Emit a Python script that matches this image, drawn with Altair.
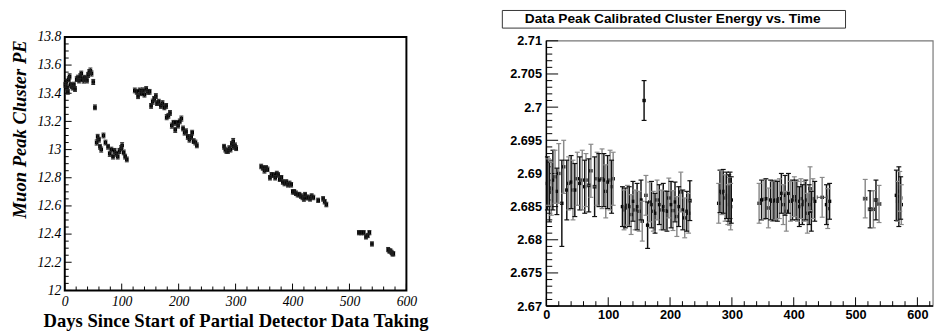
import altair as alt
import pandas as pd

SERIF = "Liberation Serif"
SANS = "Liberation Sans"

# ---------------- Left panel data (Muon Peak Cluster PE) ----------------
seg1_days = [1, 2.5, 4, 5.5, 7, 8.5, 10, 12, 14, 16,
             18, 21, 23, 25, 27, 29, 31, 33, 35, 37,
             39, 41, 43, 45, 47, 50, 53]
seg1_vals = [13.46, 13.48, 13.44, 13.41, 13.50, 13.52, 13.46, 13.45, 13.44, 13.46,
             13.43, 13.50, 13.51, 13.49, 13.52, 13.54, 13.50, 13.49, 13.51, 13.50,
             13.49, 13.53, 13.55, 13.56, 13.54, 13.48, 13.30]
seg1_errs = [0.017, 0.017, 0.018, 0.017, 0.017, 0.018, 0.017, 0.017, 0.017, 0.018,
             0.017, 0.017, 0.018, 0.017, 0.018, 0.017, 0.017, 0.018, 0.017, 0.017,
             0.017, 0.018, 0.018, 0.019, 0.018, 0.018, 0.017]

seg2_days = [56, 57.8, 60, 61.8, 64, 68, 71.5, 76, 79, 81.8,
             84.7, 87.5, 90.4, 93, 96, 99, 100.7, 103.5, 106, 109]
seg2_vals = [13.05, 13.09, 13.07, 13.02, 13.00, 13.10, 13.05, 13.02, 12.97, 13.00,
             12.95, 12.99, 12.97, 12.95, 12.99, 13.01, 13.03, 12.98, 12.95, 12.93]
seg2_errs = [0.018, 0.018, 0.017, 0.017, 0.018, 0.017, 0.017, 0.017, 0.018, 0.017,
             0.017, 0.018, 0.017, 0.017, 0.018, 0.018, 0.019, 0.017, 0.017, 0.017]

seg3_days = [123, 126.4, 128.7, 131.6, 134.4, 137.3, 140, 143, 146, 149,
             151.6, 154.5, 157, 160, 162, 165, 168.8, 171.6, 175, 178,
             179, 182, 184.8, 188, 191, 194, 196, 199, 202, 204.8,
             207.7, 210.5, 213, 216, 219, 222, 223.7, 226.5, 229.4, 232]
seg3_vals = [13.42, 13.41, 13.38, 13.42, 13.40, 13.42, 13.39, 13.43, 13.41, 13.41,
             13.31, 13.34, 13.36, 13.38, 13.33, 13.34, 13.31, 13.33, 13.30, 13.31,
             13.23, 13.24, 13.26, 13.17, 13.19, 13.14, 13.19, 13.17, 13.20, 13.22,
             13.15, 13.12, 13.13, 13.09, 13.07, 13.09, 13.12, 13.06, 13.05, 13.03]
seg3_errs = [0.017, 0.017, 0.018, 0.017, 0.017, 0.018, 0.017, 0.017, 0.017, 0.017,
             0.017, 0.018, 0.017, 0.017, 0.017, 0.017, 0.017, 0.017, 0.017, 0.017,
             0.018, 0.017, 0.017, 0.018, 0.017, 0.018, 0.017, 0.017, 0.017, 0.018,
             0.017, 0.017, 0.017, 0.017, 0.017, 0.017, 0.017, 0.017, 0.017, 0.017]

seg4_days = [279.7, 282, 284, 286.6, 289, 291, 293.5, 295.8, 297, 299, 301]
seg4_vals = [13.02, 13.00, 12.99, 12.99, 13.01, 13.00, 13.04, 13.06, 13.02, 13.03, 13.01]
seg4_errs = [0.017, 0.017, 0.017, 0.017, 0.017, 0.017, 0.018, 0.019, 0.018, 0.017, 0.017]

seg5_days = [345, 347.8, 350.7, 353.5, 356, 360.4, 363, 366.7, 369.6, 372.4,
             374.7, 377.6, 380.4, 383, 386, 389, 392, 394.7, 397.6, 400.5,
             403, 406, 409, 412, 414.8, 417.6, 420, 422, 425, 428,
             430.8, 433.6, 436.5, 445, 453.7, 456.5, 459.4]
seg5_vals = [12.88, 12.87, 12.85, 12.87, 12.86, 12.80, 12.82, 12.82, 12.80, 12.83,
             12.82, 12.79, 12.80, 12.77, 12.76, 12.77, 12.75, 12.76, 12.75, 12.70,
             12.70, 12.69, 12.68, 12.68, 12.67, 12.66, 12.65, 12.68, 12.66, 12.66,
             12.65, 12.67, 12.66, 12.64, 12.65, 12.63, 12.61]
seg5_errs = [0.016, 0.016, 0.017, 0.016, 0.016, 0.016, 0.017, 0.016, 0.016, 0.016,
             0.016, 0.016, 0.016, 0.016, 0.017, 0.016, 0.016, 0.016, 0.016, 0.016,
             0.016, 0.016, 0.016, 0.016, 0.016, 0.016, 0.017, 0.016, 0.017, 0.016,
             0.016, 0.016, 0.016, 0.015, 0.016, 0.016, 0.016]

seg6_days = [516.6, 520.6, 525, 529, 532, 535, 539.5]
seg6_vals = [12.41, 12.41, 12.41, 12.38, 12.39, 12.41, 12.33]
seg6_errs = [0.015, 0.015, 0.015, 0.015, 0.015, 0.015, 0.015]

seg7_days = [568, 570, 572, 574, 575.5, 577]
seg7_vals = [12.29, 12.28, 12.28, 12.27, 12.26, 12.26]
seg7_errs = [0.015, 0.015, 0.015, 0.015, 0.015, 0.015]

# ---------------- Right panel data (calibrated cluster energy) ----------------
ra_days = [1.6, 3.5, 5, 8, 10.5, 14, 17, 20, 25, 28,
           33, 36, 40, 43, 46, 50, 54, 58, 62, 64,
           68.6, 72, 78, 82, 85, 90, 93, 96, 99, 103,
           105.5, 108]
ra_vals = [2.6885, 2.6887, 2.6872, 2.6877, 2.6890, 2.6895, 2.6873, 2.6900, 2.6855, 2.6910,
           2.6875, 2.6885, 2.6887, 2.6875, 2.6875, 2.6892, 2.6885, 2.6890, 2.6880, 2.6890,
           2.6882, 2.6904, 2.6880, 2.6892, 2.6890, 2.6892, 2.6890, 2.6873, 2.6887, 2.6890,
           2.6880, 2.6892]
ra_errs = [0.0040, 0.0035, 0.0045, 0.0040, 0.0045, 0.0040, 0.0035, 0.0045, 0.0065, 0.0040,
           0.0045, 0.0040, 0.0040, 0.0045, 0.0040, 0.0040, 0.0040, 0.0045, 0.0040, 0.0040,
           0.0040, 0.0040, 0.0045, 0.0040, 0.0040, 0.0045, 0.0040, 0.0040, 0.0040, 0.0045,
           0.0040, 0.0040]
ra_xerr = [0, 0, 0, 0, 0, 0, 0, 0, 0, 0,
           0, 0, 0, 0, 0, 0, 0, 0, 0, 0,
           2.5, 0, 2.5, 0, 0, 0, 0, 0, 0, 0,
           0, 0]

rb_days = [123, 125.6, 127.7, 131, 134, 137, 140, 143.5, 146.7, 150,
           153, 155, 158, 161, 163.7, 167, 170, 173, 175.7, 179,
           182.6, 185.7, 189, 192, 195, 198, 201.6, 204.7, 208, 211,
           214, 217.4, 220.6, 223.7, 227, 230, 232]
rb_vals = [2.6850, 2.6845, 2.6848, 2.6852, 2.6850, 2.6838, 2.6858, 2.6845, 2.6850, 2.6843,
           2.6860, 2.6828, 2.7010, 2.6867, 2.6822, 2.6857, 2.6853, 2.6843, 2.6840, 2.6860,
           2.6853, 2.6845, 2.6850, 2.6844, 2.6843, 2.6863, 2.6853, 2.6844, 2.6857, 2.6835,
           2.6850, 2.6872, 2.6845, 2.6833, 2.6843, 2.6840, 2.6859]
rb_errs = [0.0030, 0.0030, 0.0030, 0.0030, 0.0030, 0.0030, 0.0030, 0.0030, 0.0035, 0.0030,
           0.0030, 0.0030, 0.0030, 0.0030, 0.0035, 0.0030, 0.0035, 0.0030, 0.0030, 0.0030,
           0.0030, 0.0030, 0.0035, 0.0030, 0.0030, 0.0030, 0.0035, 0.0030, 0.0030, 0.0030,
           0.0030, 0.0030, 0.0030, 0.0030, 0.0030, 0.0030, 0.0030]
rb_xerr = [0, 0, 0, 0, 0, 0, 0, 0, 0, 0,
           0, 0, 0, 0, 0, 0, 0, 0, 0, 0,
           0, 0, 0, 0, 0, 0, 0, 0, 0, 0,
           0, 0, 0, 0, 0, 0, 2.5]

rc_days = [278.6, 280.7, 283.4, 286, 289, 291.3, 293.4, 295, 296, 297, 298, 299]
rc_vals = [2.6855, 2.6873, 2.6871, 2.6873, 2.6863, 2.6867, 2.6853, 2.6863, 2.6858, 2.6867, 2.6850, 2.6860]
rc_errs = [0.0030, 0.0032, 0.0033, 0.0033, 0.0035, 0.0035, 0.0030, 0.0035, 0.0036, 0.0035, 0.0035, 0.0035]
rc_xerr = [0, 0, 0, 0, 0, 0, 0, 0, 0, 0, 0, 0]

rd_days = [344, 348, 352, 355, 359, 362.6, 365.7, 368, 371, 373.6,
           376.8, 380, 383, 386, 388, 391.5, 394.7, 398, 401, 404,
           406, 409, 411.6, 414, 417, 419.5, 422, 425, 426.4, 428.5,
           431, 434, 446, 453, 455, 458]
rd_vals = [2.6855, 2.6860, 2.6861, 2.6862, 2.6848, 2.6860, 2.6858, 2.6859, 2.6860, 2.6858,
           2.6862, 2.6870, 2.6853, 2.6867, 2.6843, 2.6870, 2.6858, 2.6860, 2.6865, 2.6860,
           2.6858, 2.6850, 2.6862, 2.6853, 2.6858, 2.6860, 2.6840, 2.6853, 2.6877, 2.6843,
           2.6862, 2.6858, 2.6864, 2.6853, 2.6847, 2.6858]
rd_errs = [0.0030, 0.0030, 0.0030, 0.0030, 0.0030, 0.0030, 0.0030, 0.0030, 0.0030, 0.0030,
           0.0030, 0.0030, 0.0030, 0.0030, 0.0030, 0.0030, 0.0030, 0.0030, 0.0030, 0.0030,
           0.0030, 0.0030, 0.0030, 0.0030, 0.0030, 0.0030, 0.0030, 0.0030, 0.0033, 0.0030,
           0.0030, 0.0030, 0.0030, 0.0030, 0.0030, 0.0027]
rd_xerr = [0, 0, 0, 0, 2.5, 0, 0, 0, 0, 0,
           0, 0, 0, 0, 0, 0, 0, 0, 0, 0,
           0, 0, 0, 0, 0, 0, 0, 0, 0, 0,
           0, 0, 8, 0, 0, 0]

re_days = [515.6, 523.5, 528.8, 533, 538]
re_vals = [2.6862, 2.6846, 2.6846, 2.6860, 2.6854]
re_errs = [0.0029, 0.0028, 0.0028, 0.0030, 0.0028]
re_xerr = [3, 3, 3, 3, 3]

rf_days = [566, 568, 570, 571.5, 573, 574]
rf_vals = [2.6867, 2.6858, 2.6865, 2.6873, 2.6863, 2.6853]
rf_errs = [0.0038, 0.0030, 0.0045, 0.0030, 0.0032, 0.0030]
rf_xerr = [0, 0, 0, 0, 0, 0]

# tick values / labels
left_x_labels = [0, 100, 200, 300, 400, 500, 600]
left_y_labels = [12, 12.2, 12.4, 12.6, 12.8, 13, 13.2, 13.4, 13.6, 13.8]
right_x_labels = [0, 100, 200, 300, 400, 500, 600]
right_y_labels = [2.67, 2.675, 2.68, 2.685, 2.69, 2.695, 2.7, 2.705, 2.71]
left_x_minor = [v for v in range(20, 600, 20) if v % 100]
left_y_minor = [round(12 + 0.05 * i, 2) for i in range(1, 36) if i % 4]
right_x_minor = [v for v in range(20, 626, 20) if v % 100]
right_y_minor = [round(2.67 + 0.001 * i, 3) for i in range(1, 40) if i % 5]

TITLE_R = "Data Peak Calibrated Cluster Energy vs. Time"

# ---------------- frames ----------------
LW, LH = 349, 259
RW, RH = 395, 275
L_XDOM, L_YDOM = [0, 600], [12, 13.8]
R_XDOM, R_YDOM = [0, 625.3], [2.67, 2.71059]

left_df = pd.DataFrame({
    "day": seg1_days + seg2_days + seg3_days + seg4_days + seg5_days + seg6_days + seg7_days,
    "val": seg1_vals + seg2_vals + seg3_vals + seg4_vals + seg5_vals + seg6_vals + seg7_vals,
    "err": seg1_errs + seg2_errs + seg3_errs + seg4_errs + seg5_errs + seg6_errs + seg7_errs,
})
left_df["lo"] = left_df["val"] - left_df["err"]
left_df["hi"] = left_df["val"] + left_df["err"]

right_df = pd.DataFrame({
    "day": ra_days + rb_days + rc_days + rd_days + re_days + rf_days,
    "val": ra_vals + rb_vals + rc_vals + rd_vals + re_vals + rf_vals,
    "err": ra_errs + rb_errs + rc_errs + rd_errs + re_errs + rf_errs,
    "xerr": ra_xerr + rb_xerr + rc_xerr + rd_xerr + re_xerr + rf_xerr,
})
right_df["lo"] = right_df["val"] - right_df["err"]
right_df["hi"] = right_df["val"] + right_df["err"]
right_df["xlo"] = right_df["day"] - right_df["xerr"]
right_df["xhi"] = right_df["day"] + right_df["xerr"]
right_df["grp"] = [i % 2 for i in range(len(right_df))]
right_x_df = right_df[right_df["xerr"] > 0]

one = pd.DataFrame({"t": [TITLE_R]})

# ---------------- axes ----------------
lx_axis = alt.Axis(values=left_x_labels, format="d", domain=False, ticks=False, grid=False,
                   labelFont=SERIF, labelFontStyle="italic", labelFontSize=14, labelColor="black",
                   labelPadding=4, labelFlush=False, labelOverlap=False,
                   title="Days Since Start of Partial Detector Data Taking",
                   titleFont=SERIF, titleFontWeight="bold", titleFontSize=19, titleColor="black",
                   titleY=37, titleBaseline="alphabetic")
ly_axis = alt.Axis(values=left_y_labels, format="~g", domain=False, ticks=False, grid=False,
                   labelFont=SERIF, labelFontStyle="italic", labelFontSize=14, labelColor="black",
                   labelPadding=4, labelFlush=False, labelOverlap=False,
                   title="Muon Peak Cluster PE", titleFont=SERIF, titleFontStyle="italic",
                   titleFontWeight="bold", titleFontSize=19, titleColor="black",
                   titleX=-46.5, titleY=3, titleAngle=270, titleAlign="right", titleBaseline="middle")
rx_axis = alt.Axis(values=right_x_labels, format="d", domain=False, ticks=False, grid=False,
                   labelFont=SANS, labelFontWeight="bold", labelFontSize=13, labelColor="black",
                   labelPadding=3, labelFlush=False, labelOverlap=False, title="")
ry_axis = alt.Axis(values=right_y_labels, format="~g", domain=False, ticks=False, grid=False,
                   labelFont=SANS, labelFontWeight="bold", labelFontSize=13, labelColor="black",
                   labelPadding=5, labelFlush=False, labelOverlap=False, title="")


def lx(field="day"):
    return alt.X(f"{field}:Q", scale=alt.Scale(domain=L_XDOM, nice=False, zero=False), axis=lx_axis)


def ly(field="val"):
    return alt.Y(f"{field}:Q", scale=alt.Scale(domain=L_YDOM, nice=False, zero=False), axis=ly_axis)


def rx(field="day"):
    return alt.X(f"{field}:Q", scale=alt.Scale(domain=R_XDOM, nice=False, zero=False), axis=rx_axis)


def ry(field="val"):
    return alt.Y(f"{field}:Q", scale=alt.Scale(domain=R_YDOM, nice=False, zero=False), axis=ry_axis)


# ---------------- left chart ----------------
lbase = alt.Chart(left_df)
l_err = lbase.mark_rule(color="#222", strokeWidth=1).encode(x=lx(), y=ly("lo"), y2="hi:Q")
l_cap_hi = lbase.mark_rule(color="#222", strokeWidth=1, xOffset=-2, x2Offset=2).encode(
    x=lx(), x2="day:Q", y=ly("hi"))
l_cap_lo = lbase.mark_rule(color="#222", strokeWidth=1, xOffset=-2, x2Offset=2).encode(
    x=lx(), x2="day:Q", y=ly("lo"))
l_pts = lbase.mark_square(size=14, color="black", opacity=1).encode(x=lx(), y=ly())

l_ytick_major = alt.Chart(pd.DataFrame({"v": left_y_labels})).mark_rule(color="black").encode(
    y=ly("v"), x=alt.value(0), x2=alt.value(7))
l_ytick_minor = alt.Chart(pd.DataFrame({"v": left_y_minor})).mark_rule(color="black").encode(
    y=ly("v"), x=alt.value(0), x2=alt.value(4))
l_xtick_major = alt.Chart(pd.DataFrame({"v": left_x_labels})).mark_rule(color="black").encode(
    x=lx("v"), y=alt.value(LH), y2=alt.value(LH - 7))
l_xtick_minor = alt.Chart(pd.DataFrame({"v": left_x_minor})).mark_rule(color="black").encode(
    x=lx("v"), y=alt.value(LH), y2=alt.value(LH - 4))
l_frame = alt.Chart(one).mark_rect(fillOpacity=0, stroke="black", strokeWidth=2).encode(
    x=alt.value(0), x2=alt.value(LW), y=alt.value(0), y2=alt.value(LH))

left = alt.layer(l_pts, l_frame, l_ytick_major, l_ytick_minor, l_xtick_major, l_xtick_minor,
                 l_err, l_cap_hi, l_cap_lo).properties(width=LW, height=LH)

# ---------------- right chart ----------------
ebar_color = alt.Color("grp:N", scale=alt.Scale(domain=[0, 1], range=["#111111", "#8a8a8a"]), legend=None)
rbase = alt.Chart(right_df)
r_err = rbase.mark_rule(strokeWidth=1.5).encode(x=rx(), y=ry("lo"), y2="hi:Q", color=ebar_color)
r_cap_hi = rbase.mark_rule(strokeWidth=1.2, xOffset=-2.5, x2Offset=2.5).encode(
    x=rx(), x2="day:Q", y=ry("hi"), color=ebar_color)
r_cap_lo = rbase.mark_rule(strokeWidth=1.2, xOffset=-2.5, x2Offset=2.5).encode(
    x=rx(), x2="day:Q", y=ry("lo"), color=ebar_color)
rxbase = alt.Chart(right_x_df)
r_xerr = rxbase.mark_rule(strokeWidth=1, color="#555").encode(x=rx("xlo"), x2="xhi:Q", y=ry())
r_xcap_l = rxbase.mark_rule(strokeWidth=1, color="#555", yOffset=-2, y2Offset=2).encode(
    x=rx("xlo"), y=ry(), y2="val:Q")
r_xcap_r = rxbase.mark_rule(strokeWidth=1, color="#555", yOffset=-2, y2Offset=2).encode(
    x=rx("xhi"), y=ry(), y2="val:Q")
r_pts = rbase.mark_square(size=12, color="black", opacity=1).encode(x=rx(), y=ry())

r_ytick_major = alt.Chart(pd.DataFrame({"v": right_y_labels})).mark_rule(color="black").encode(
    y=ry("v"), x=alt.value(0), x2=alt.value(12))
r_ytick_minor = alt.Chart(pd.DataFrame({"v": right_y_minor})).mark_rule(color="black").encode(
    y=ry("v"), x=alt.value(0), x2=alt.value(6))
r_xtick_major = alt.Chart(pd.DataFrame({"v": right_x_labels})).mark_rule(color="black").encode(
    x=rx("v"), y=alt.value(RH), y2=alt.value(RH - 9))
r_xtick_minor = alt.Chart(pd.DataFrame({"v": right_x_minor})).mark_rule(color="black").encode(
    x=rx("v"), y=alt.value(RH), y2=alt.value(RH - 5))
r_frame = alt.Chart(one).mark_rect(fillOpacity=0, stroke="#777", strokeWidth=1.2).encode(
    x=alt.value(0), x2=alt.value(RW), y=alt.value(4), y2=alt.value(RH))
r_left_line = alt.Chart(one).mark_rule(color="black", strokeWidth=1.5).encode(
    x=alt.value(0), y=alt.value(4), y2=alt.value(RH))
r_bottom_line = alt.Chart(one).mark_rule(color="black", strokeWidth=1.5).encode(
    x=alt.value(0), x2=alt.value(RW), y=alt.value(RH))
r_title_box = alt.Chart(one).mark_rect(fill="white", stroke="#333", strokeWidth=1).encode(
    x=alt.value(-45), x2=alt.value(305.6), y=alt.value(-27), y2=alt.value(-9))
r_title_text = alt.Chart(one).mark_text(font=SANS, fontWeight="bold", fontSize=14, color="black",
                                        align="center", baseline="middle").encode(
    text="t:N", x=alt.value(129), y=alt.value(-18))

right = alt.layer(r_pts, r_frame, r_ytick_major, r_ytick_minor, r_xtick_major, r_xtick_minor,
                  r_left_line, r_bottom_line, r_err, r_cap_hi, r_cap_lo,
                  r_xerr, r_xcap_l, r_xcap_r, r_title_box, r_title_text
                  ).properties(width=RW, height=RH)

chart = alt.hconcat(left, right, spacing=143, bounds="flush").properties(
    padding={"left": 2, "top": -2, "right": 0, "bottom": 0}
).configure_view(stroke="transparent")

chart.save("out.html", embed_options={"renderer": "svg", "actions": False})
